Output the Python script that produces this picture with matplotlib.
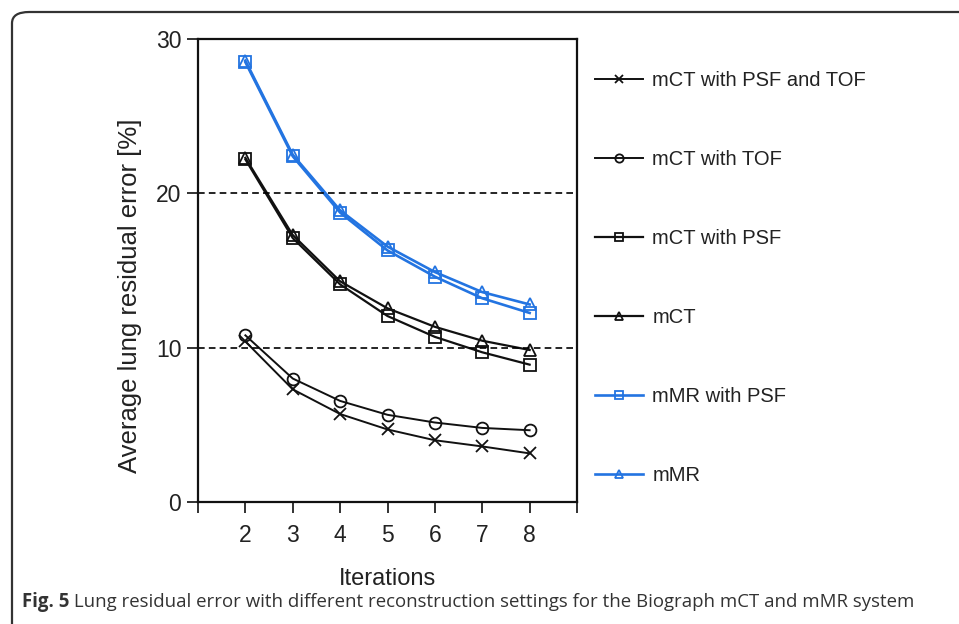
import matplotlib

matplotlib.use("Agg")

import matplotlib.pyplot as plt
from matplotlib.patches import FancyBboxPatch

plt.rcParams["font.family"] = ["Liberation Sans", "DejaVu Sans"]

iterations = [2, 3, 4, 5, 6, 7, 8]
mct_psf_tof = [10.4, 7.3, 5.7, 4.7, 4.0, 3.6, 3.15]
mct_tof = [10.8, 8.0, 6.55, 5.65, 5.15, 4.8, 4.65]
mct_psf = [22.2, 17.1, 14.1, 12.05, 10.7, 9.7, 8.9]
mct = [22.3, 17.3, 14.3, 12.55, 11.35, 10.45, 9.85]
mmr_psf = [28.5, 22.4, 18.75, 16.3, 14.6, 13.2, 12.25]
mmr = [28.6, 22.5, 18.9, 16.55, 14.9, 13.6, 12.8]

labels = ["mCT with PSF and TOF", "mCT with TOF", "mCT with PSF", "mCT",
          "mMR with PSF", "mMR"]
caption_bold = "Fig. 5"
caption_rest = " Lung residual error with different reconstruction settings for the Biograph mCT and mMR system"

W, H = 959, 624
fig = plt.figure(figsize=(W / 100, H / 100), dpi=100)

# rounded frame around the panel (open on the right and bottom)
frame = FancyBboxPatch((12 / W, -0.2), 1.2, (H - 12) / H + 0.2,
                       boxstyle="round,pad=0,rounding_size=0.018",
                       transform=fig.transFigure, fill=False,
                       edgecolor="#333333", linewidth=1.6)
fig.patches.append(frame)

ax = fig.add_axes([198 / W, (H - 502) / H, (577 - 198) / W, (502 - 39) / H])

black = "#111111"
blue = "#2374E1"
series = [
    (mct_psf_tof, "x", black, 1.4),
    (mct_tof, "o", black, 1.4),
    (mct_psf, "s", black, 1.6),
    (mct, "^", black, 1.6),
    (mmr_psf, "s", blue, 1.9),
    (mmr, "^", blue, 1.9),
]
handles = []
for vals, mk, col, lw in series:
    h, = ax.plot(iterations, vals, color=col, lw=lw, marker=mk, markersize=8.5,
                 markerfacecolor="none", markeredgecolor=col, markeredgewidth=1.3)
    handles.append(h)

for yv in (10, 20):
    ax.axhline(yv, color="black", lw=1.2, ls=(0, (4, 2.5)))

ax.set_xlim(1, 9)
ax.set_ylim(0, 30)
ax.set_xticks(range(1, 10))
ax.set_xticklabels([""] + [str(i) for i in iterations] + [""])
ax.set_yticks([0, 10, 20, 30])
ax.tick_params(axis="both", direction="out", length=8, width=1.3, labelsize=16.5,
               colors="#222222", pad=4)
ax.tick_params(axis="x", pad=8)
for sp in ax.spines.values():
    sp.set_linewidth(1.6)
    sp.set_color("#111111")

ax.set_xlabel("Iterations", fontsize=17, color="#222222", labelpad=15)
ax.set_ylabel("Average lung residual error [%]", fontsize=18.5, color="#222222")
ax.yaxis.set_label_coords(142 / W, (H - 296) / H, transform=fig.transFigure)

leg = fig.legend(handles, labels, loc="upper left",
                 bbox_to_anchor=(595 / W, (H - 71) / H), frameon=False,
                 fontsize=14.5, handlelength=2.4, handletextpad=0.45,
                 labelspacing=2.98, borderpad=0, borderaxespad=0, markerscale=0.7)
for t in leg.get_texts():
    t.set_color("#222222")

fig.canvas.draw()
r = fig.canvas.get_renderer()
cb = fig.text(22 / W, (H - 602) / H, caption_bold, fontsize=13.45, fontweight="bold",
              family="Open Sans", color="#333333", va="center")
bb = cb.get_window_extent(r)
fig.text(bb.x1 / W, (H - 602) / H, caption_rest, fontsize=13.45,
         family="Open Sans", color="#333333", va="center")

fig.savefig("out.png", dpi=100)
